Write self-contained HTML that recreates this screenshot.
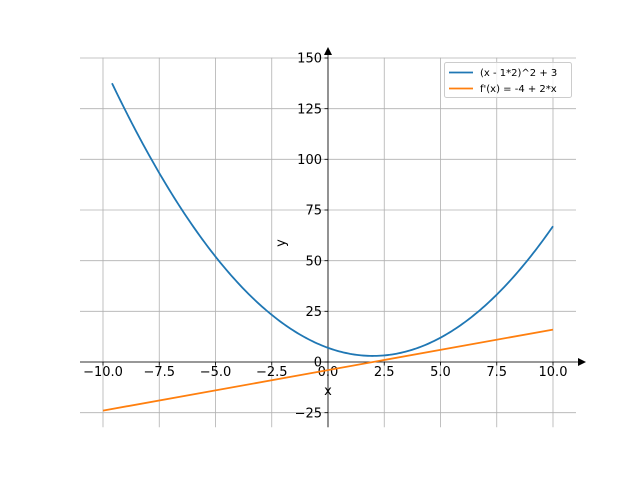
<!DOCTYPE html>
<html><head><style>body{margin:0;background:#fff}svg{display:block}text{font-family:"DejaVu Sans","Liberation Sans",sans-serif}</style></head><body>
<svg width="640" height="480" viewBox="0 0 640 480" xmlns="http://www.w3.org/2000/svg">
<g stroke="#b0b0b0" stroke-width="0.8">
<line x1="103" y1="57.6" x2="103" y2="427.2"/><line x1="159.25" y1="57.6" x2="159.25" y2="427.2"/><line x1="215.5" y1="57.6" x2="215.5" y2="427.2"/><line x1="271.75" y1="57.6" x2="271.75" y2="427.2"/><line x1="328" y1="57.6" x2="328" y2="427.2"/><line x1="384.25" y1="57.6" x2="384.25" y2="427.2"/><line x1="440.5" y1="57.6" x2="440.5" y2="427.2"/><line x1="496.75" y1="57.6" x2="496.75" y2="427.2"/><line x1="553" y1="57.6" x2="553" y2="427.2"/>
<line x1="80" y1="412.7" x2="576" y2="412.7"/><line x1="80" y1="362" x2="576" y2="362"/><line x1="80" y1="311.3" x2="576" y2="311.3"/><line x1="80" y1="260.7" x2="576" y2="260.7"/><line x1="80" y1="210" x2="576" y2="210"/><line x1="80" y1="159.3" x2="576" y2="159.3"/><line x1="80" y1="108.7" x2="576" y2="108.7"/><line x1="80" y1="58" x2="576" y2="58"/>
</g>
<g stroke="#000" stroke-width="0.8">
<line x1="80" y1="362" x2="580" y2="362"/><line x1="328" y1="427.2" x2="328" y2="52"/>
<line x1="103" y1="362" x2="103" y2="365.5"/><line x1="159.25" y1="362" x2="159.25" y2="365.5"/><line x1="215.5" y1="362" x2="215.5" y2="365.5"/><line x1="271.75" y1="362" x2="271.75" y2="365.5"/><line x1="384.25" y1="362" x2="384.25" y2="365.5"/><line x1="440.5" y1="362" x2="440.5" y2="365.5"/><line x1="496.75" y1="362" x2="496.75" y2="365.5"/><line x1="553" y1="362" x2="553" y2="365.5"/>
<line x1="324.5" y1="412.7" x2="328" y2="412.7"/><line x1="324.5" y1="311.3" x2="328" y2="311.3"/><line x1="324.5" y1="260.7" x2="328" y2="260.7"/><line x1="324.5" y1="210" x2="328" y2="210"/><line x1="324.5" y1="159.3" x2="328" y2="159.3"/><line x1="324.5" y1="108.7" x2="328" y2="108.7"/><line x1="324.5" y1="58" x2="328" y2="58"/><line x1="324.5" y1="362" x2="328" y2="362"/>
</g>
<polygon points="586,362 578,358 578,366" fill="#000"/><polygon points="328,47 324,55 332,55" fill="#000"/>
<g font-size="13" fill="#000" text-anchor="middle">
<text x="103" y="376">−10.0</text><text x="159.25" y="376">−7.5</text><text x="215.5" y="376">−5.0</text><text x="271.75" y="376">−2.5</text><text x="328" y="376">0.0</text><text x="384.25" y="376">2.5</text><text x="440.5" y="376">5.0</text><text x="496.75" y="376">7.5</text><text x="553" y="376">10.0</text>
<text x="328" y="395">x</text>
<text transform="translate(285,243) rotate(-90)">y</text>
</g>
<g font-size="13" fill="#000" text-anchor="end">
<text x="322" y="417.5">−25</text><text x="322" y="366.5">0</text><text x="322" y="316">25</text><text x="322" y="265.5">50</text><text x="322" y="214.5">75</text><text x="322" y="164">100</text><text x="322" y="113.5">125</text><text x="322" y="62.5">150</text>
</g>
<polyline fill="none" stroke="#1f77b4" stroke-width="1.8" id="p"/>
<line x1="103" y1="410.6" x2="553" y2="329.6" stroke="#ff7f0e" stroke-width="1.8"/>
<g>
<rect x="444.5" y="62.5" width="127" height="35" rx="2" fill="#fff" fill-opacity="0.8" stroke="#ccc"/>
<line x1="449" y1="72.5" x2="473" y2="72.5" stroke="#1f77b4" stroke-width="1.8"/>
<line x1="449" y1="88.5" x2="473" y2="88.5" stroke="#ff7f0e" stroke-width="1.8"/>
<text x="480" y="76" font-size="10">(x - 1*2)^2 + 3</text>
<text x="480" y="92" font-size="10">f'(x) = -4 + 2*x</text>
</g>
<script>
var s=[];for(var i=0;i<=200;i++){var x=-9.6+i*(19.6/200);var y=(x-2)*(x-2)+3;s.push((328+x*22.5).toFixed(2)+","+(362-y*2.0267).toFixed(2));}
document.getElementById("p").setAttribute("points",s.join(" "));
</script>
</svg>
</body></html>
